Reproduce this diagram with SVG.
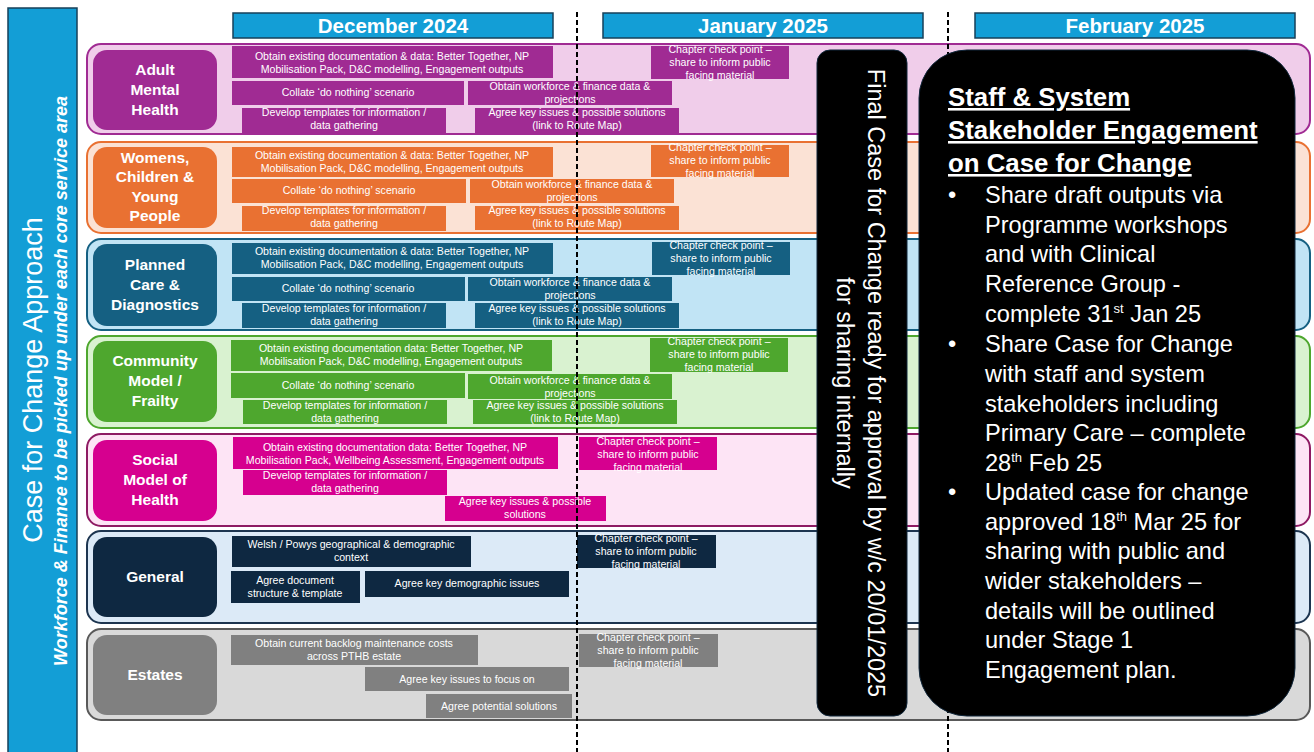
<svg xmlns="http://www.w3.org/2000/svg" width="1314" height="752" viewBox="0 0 1314 752">
  <style>
    text { font-family: "Liberation Sans", Arial, sans-serif; }
    .t { font-size: 10.6px; fill: #ffffff; text-anchor: middle; }
    .lbl { font-size: 15.5px; font-weight: bold; fill: #ffffff; text-anchor: middle; }
    .month { font-size: 20.5px; font-weight: bold; fill: #ffffff; text-anchor: middle; }
    .hdr { fill: #139ed6; stroke: #17405a; stroke-width: 1.5; }
    .lane { stroke-width: 2; }
    .amh { fill: #a02b93; } .wcy { fill: #e97132; } .pcd { fill: #156082; }
    .cmf { fill: #4ea72e; } .smh { fill: #d6008f; } .gen { fill: #0e2841; } .est { fill: #808080; }
    .div { stroke: #000000; stroke-width: 2; stroke-dasharray: 5 3; fill: none; }
    .blk { fill: #000000; stroke: #10263a; stroke-width: 1; }
    .side { font-size: 23.5px; fill: #ffffff; text-anchor: middle; }
    .big { font-size: 23.6px; fill: #ffffff; }
    .bigh { font-size: 25.8px; font-weight: bold; fill: #ffffff; text-decoration: underline; }
    .sup { font-size: 13px; }
  </style>

  <!-- Title bar on the left -->
  <g id="approach">
    <rect x="8" y="8" width="69" height="760" class="hdr"/>
    <text transform="translate(42,380) rotate(-90)" font-size="27" fill="#ffffff" text-anchor="middle">Case for Change Approach</text>
    <text transform="translate(67,381) rotate(-90)" font-size="18" font-weight="bold" font-style="italic" fill="#ffffff" text-anchor="middle">Workforce &amp; Finance to be picked up under each core service area</text>
  </g>

  <!-- Month headers -->
  <g id="month-dec">
    <rect x="233" y="13" width="320" height="25" class="hdr"/>
    <text x="393" y="33" class="month">December 2024</text>
  </g>
  <g id="month-jan">
    <rect x="603" y="13" width="320" height="25" class="hdr"/>
    <text x="763" y="33" class="month">January 2025</text>
  </g>
  <g id="month-feb">
    <rect x="975" y="13" width="320" height="25" class="hdr"/>
    <text x="1135" y="33" class="month">February 2025</text>
  </g>

  <!-- Adult Mental Health -->
  <g id="lane-adult-mental-health">
    <rect x="87" y="44" width="1223" height="90" rx="14" class="lane" fill="#f0cdea" stroke="#a02b93"/>
    <rect x="93" y="50" width="124" height="80" rx="14" class="amh"/>
    <text class="lbl"><tspan x="155" y="75">Adult</tspan><tspan x="155" y="95">Mental</tspan><tspan x="155" y="115">Health</tspan></text>
    <g class="amh">
      <rect x="232" y="46" width="321" height="32"/>
      <rect x="232" y="81" width="232" height="24"/>
      <rect x="242" y="108" width="204" height="25"/>
      <rect x="468" y="81" width="204" height="24"/>
      <rect x="475" y="108" width="204" height="25"/>
      <rect x="651" y="46" width="138" height="33"/>
    </g>
    <text class="t"><tspan x="392" y="60">Obtain existing documentation &amp; data: Better Together, NP</tspan><tspan x="392" y="73">Mobilisation Pack, D&amp;C modelling, Engagement outputs</tspan></text>
    <text class="t" x="348" y="96">Collate ‘do nothing’ scenario</text>
    <text class="t"><tspan x="344" y="116">Develop templates for information /</tspan><tspan x="344" y="129">data gathering</tspan></text>
    <text class="t"><tspan x="570" y="90">Obtain workforce &amp; finance data &amp;</tspan><tspan x="570" y="103">projections</tspan></text>
    <text class="t"><tspan x="577" y="116">Agree key issues &amp; possible solutions</tspan><tspan x="577" y="129">(link to Route Map)</tspan></text>
    <text class="t"><tspan x="720" y="53">Chapter check point –</tspan><tspan x="720" y="66">share to inform public</tspan><tspan x="720" y="79">facing material</tspan></text>
  </g>

  <!-- Womens, Children & Young People -->
  <g id="lane-womens-children">
    <rect x="87" y="142" width="1223" height="91" rx="14" class="lane" fill="#fbe2d5" stroke="#e97132"/>
    <rect x="93" y="147" width="124" height="81" rx="14" class="wcy"/>
    <text class="lbl"><tspan x="155" y="163">Womens,</tspan><tspan x="155" y="182">Children &amp;</tspan><tspan x="155" y="202">Young</tspan><tspan x="155" y="221">People</tspan></text>
    <g class="wcy">
      <rect x="232" y="147" width="321" height="30"/>
      <rect x="232" y="179" width="234" height="24"/>
      <rect x="242" y="206" width="204" height="25"/>
      <rect x="470" y="179" width="204" height="24"/>
      <rect x="475" y="206" width="204" height="24"/>
      <rect x="651" y="145" width="138" height="32"/>
    </g>
    <text class="t"><tspan x="392" y="159">Obtain existing documentation &amp; data: Better Together, NP</tspan><tspan x="392" y="172">Mobilisation Pack, D&amp;C modelling, Engagement outputs</tspan></text>
    <text class="t" x="349" y="194">Collate ‘do nothing’ scenario</text>
    <text class="t"><tspan x="344" y="214">Develop templates for information /</tspan><tspan x="344" y="227">data gathering</tspan></text>
    <text class="t"><tspan x="572" y="188">Obtain workforce &amp; finance data &amp;</tspan><tspan x="572" y="201">projections</tspan></text>
    <text class="t"><tspan x="577" y="214">Agree key issues &amp; possible solutions</tspan><tspan x="577" y="227">(link to Route Map)</tspan></text>
    <text class="t"><tspan x="720" y="151">Chapter check point –</tspan><tspan x="720" y="164">share to inform public</tspan><tspan x="720" y="177">facing material</tspan></text>
  </g>

  <!-- Planned Care & Diagnostics -->
  <g id="lane-planned-care">
    <rect x="87" y="239" width="1223" height="91" rx="14" class="lane" fill="#c1e4f5" stroke="#156082"/>
    <rect x="93" y="244" width="124" height="82" rx="14" class="pcd"/>
    <text class="lbl"><tspan x="155" y="270">Planned</tspan><tspan x="155" y="290">Care &amp;</tspan><tspan x="155" y="310">Diagnostics</tspan></text>
    <g class="pcd">
      <rect x="232" y="243" width="321" height="31"/>
      <rect x="232" y="277" width="233" height="24"/>
      <rect x="242" y="303" width="204" height="25"/>
      <rect x="468" y="277" width="204" height="24"/>
      <rect x="475" y="303" width="204" height="25"/>
      <rect x="652" y="242" width="138" height="33"/>
    </g>
    <text class="t"><tspan x="392" y="255">Obtain existing documentation &amp; data: Better Together, NP</tspan><tspan x="392" y="268">Mobilisation Pack, D&amp;C modelling, Engagement outputs</tspan></text>
    <text class="t" x="348" y="292">Collate ‘do nothing’ scenario</text>
    <text class="t"><tspan x="344" y="312">Develop templates for information /</tspan><tspan x="344" y="325">data gathering</tspan></text>
    <text class="t"><tspan x="570" y="286">Obtain workforce &amp; finance data &amp;</tspan><tspan x="570" y="299">projections</tspan></text>
    <text class="t"><tspan x="577" y="312">Agree key issues &amp; possible solutions</tspan><tspan x="577" y="325">(link to Route Map)</tspan></text>
    <text class="t"><tspan x="721" y="249">Chapter check point –</tspan><tspan x="721" y="262">share to inform public</tspan><tspan x="721" y="275">facing material</tspan></text>
  </g>

  <!-- Community Model / Frailty -->
  <g id="lane-community-model">
    <rect x="87" y="336" width="1223" height="92" rx="14" class="lane" fill="#d9f2d0" stroke="#4ea72e"/>
    <rect x="93" y="341" width="124" height="81" rx="14" class="cmf"/>
    <text class="lbl"><tspan x="155" y="366">Community</tspan><tspan x="155" y="386">Model /</tspan><tspan x="155" y="406">Frailty</tspan></text>
    <g class="cmf">
      <rect x="231" y="340" width="321" height="31"/>
      <rect x="231" y="373" width="234" height="25"/>
      <rect x="243" y="400" width="204" height="24"/>
      <rect x="468" y="374" width="204" height="25"/>
      <rect x="473" y="400" width="204" height="24"/>
      <rect x="650" y="338" width="138" height="34"/>
    </g>
    <text class="t"><tspan x="391" y="352">Obtain existing documentation  data: Better Together, NP</tspan><tspan x="391" y="365">Mobilisation Pack, D&amp;C modelling, Engagement outputs</tspan></text>
    <text class="t" x="348" y="389">Collate ‘do nothing’ scenario</text>
    <text class="t"><tspan x="345" y="409">Develop templates for information /</tspan><tspan x="345" y="422">data gathering</tspan></text>
    <text class="t"><tspan x="570" y="384">Obtain workforce &amp; finance data &amp;</tspan><tspan x="570" y="397">projections</tspan></text>
    <text class="t"><tspan x="575" y="409">Agree key issues &amp; possible solutions</tspan><tspan x="575" y="422">(link to Route Map)</tspan></text>
    <text class="t"><tspan x="719" y="345">Chapter check point –</tspan><tspan x="719" y="358">share to inform public</tspan><tspan x="719" y="371">facing material</tspan></text>
  </g>

  <!-- Social Model of Health -->
  <g id="lane-social-model">
    <rect x="87" y="434" width="1223" height="92" rx="14" class="lane" fill="#fde4f5" stroke="#8e1a63"/>
    <rect x="93" y="440" width="124" height="81" rx="14" class="smh"/>
    <text class="lbl"><tspan x="155" y="465">Social</tspan><tspan x="155" y="485">Model of</tspan><tspan x="155" y="505">Health</tspan></text>
    <g class="smh">
      <rect x="233" y="437" width="325" height="32"/>
      <rect x="243" y="470" width="204" height="25"/>
      <rect x="445" y="496" width="161" height="25"/>
      <rect x="579" y="437" width="138" height="33"/>
    </g>
    <text class="t"><tspan x="395" y="451">Obtain existing documentation  data: Better Together, NP</tspan><tspan x="395" y="464">Mobilisation Pack, Wellbeing Assessment, Engagement outputs</tspan></text>
    <text class="t"><tspan x="345" y="479">Develop templates for information /</tspan><tspan x="345" y="492">data gathering</tspan></text>
    <text class="t"><tspan x="525" y="505">Agree key issues &amp; possible</tspan><tspan x="525" y="518">solutions</tspan></text>
    <text class="t"><tspan x="648" y="445">Chapter check point –</tspan><tspan x="648" y="458">share to inform public</tspan><tspan x="648" y="471">facing material</tspan></text>
  </g>

  <!-- General -->
  <g id="lane-general">
    <rect x="87" y="531" width="1223" height="92" rx="14" class="lane" fill="#dceaf7" stroke="#1d3550"/>
    <rect x="93" y="537" width="124" height="80" rx="14" class="gen"/>
    <text class="lbl" x="155" y="582">General</text>
    <g class="gen">
      <rect x="232" y="536" width="239" height="31"/>
      <rect x="231" y="571" width="129" height="32"/>
      <rect x="365" y="571" width="204" height="26"/>
      <rect x="577" y="535" width="139" height="33"/>
    </g>
    <text class="t"><tspan x="351" y="548">Welsh / Powys geographical &amp; demographic</tspan><tspan x="351" y="561">context</tspan></text>
    <text class="t"><tspan x="295" y="584">Agree document</tspan><tspan x="295" y="597">structure &amp; template</tspan></text>
    <text class="t" x="467" y="587">Agree key demographic issues</text>
    <text class="t"><tspan x="646" y="542">Chapter check point –</tspan><tspan x="646" y="555">share to inform public</tspan><tspan x="646" y="568">facing material</tspan></text>
  </g>

  <!-- Estates -->
  <g id="lane-estates">
    <rect x="87" y="629" width="1223" height="91" rx="14" class="lane" fill="#d9d9d9" stroke="#595959"/>
    <rect x="93" y="635" width="124" height="80" rx="14" class="est"/>
    <text class="lbl" x="155" y="680">Estates</text>
    <g class="est">
      <rect x="231" y="635" width="247" height="30"/>
      <rect x="365" y="667" width="204" height="24"/>
      <rect x="426" y="694" width="146" height="24"/>
      <rect x="579" y="634" width="139" height="33"/>
    </g>
    <text class="t"><tspan x="354" y="647">Obtain current backlog maintenance costs</tspan><tspan x="354" y="660">across PTHB estate</tspan></text>
    <text class="t" x="467" y="683">Agree key issues to focus on</text>
    <text class="t" x="499" y="710">Agree potential solutions</text>
    <text class="t"><tspan x="648" y="641">Chapter check point –</tspan><tspan x="648" y="654">share to inform public</tspan><tspan x="648" y="667">facing material</tspan></text>
  </g>

  <!-- Month dividers -->
  <g id="connectors">
    <line x1="577" y1="12" x2="577" y2="752" class="div"/>
    <line x1="948" y1="12" x2="948" y2="752" class="div"/>
  </g>

  <!-- Final case milestone -->
  <g id="final-case">
    <rect x="817" y="50" width="90" height="666" rx="13" class="blk"/>
    <text class="side" transform="translate(868,383) rotate(90)">Final Case for Change ready for approval by w/c 20/01/2025</text>
    <text class="side" transform="translate(837,383) rotate(90)">for sharing internally</text>
  </g>

  <!-- Stakeholder engagement panel -->
  <g id="stakeholder-engagement">
    <rect x="919" y="50" width="376" height="666" rx="48" class="blk"/>
    <text class="bigh"><tspan x="948" y="106">Staff &amp; System</tspan><tspan x="948" y="139">Stakeholder Engagement</tspan><tspan x="948" y="172">on Case for Change</tspan></text>
    <text class="big" x="948" y="203">•</text>
    <text class="big" x="948" y="352">•</text>
    <text class="big" x="948" y="500">•</text>
    <text class="big">
      <tspan x="985" y="203">Share draft outputs via</tspan>
      <tspan x="985" y="233">Programme workshops</tspan>
      <tspan x="985" y="262">and with Clinical</tspan>
      <tspan x="985" y="292">Reference Group -</tspan>
      <tspan x="985" y="322">complete 31</tspan><tspan class="sup" dy="-9">st</tspan><tspan dy="9"> Jan 25</tspan>
      <tspan x="985" y="352">Share Case for Change</tspan>
      <tspan x="985" y="382">with staff and system</tspan>
      <tspan x="985" y="412">stakeholders including</tspan>
      <tspan x="985" y="441">Primary Care – complete</tspan>
      <tspan x="985" y="471">28</tspan><tspan class="sup" dy="-9">th</tspan><tspan dy="9"> Feb 25</tspan>
      <tspan x="985" y="500">Updated case for change</tspan>
      <tspan x="985" y="530">approved 18</tspan><tspan class="sup" dy="-9">th</tspan><tspan dy="9"> Mar 25 for</tspan>
      <tspan x="985" y="559">sharing with public and</tspan>
      <tspan x="985" y="589">wider stakeholders –</tspan>
      <tspan x="985" y="619">details will be outlined</tspan>
      <tspan x="985" y="648">under Stage 1</tspan>
      <tspan x="985" y="678">Engagement plan.</tspan>
    </text>
  </g>
</svg>
